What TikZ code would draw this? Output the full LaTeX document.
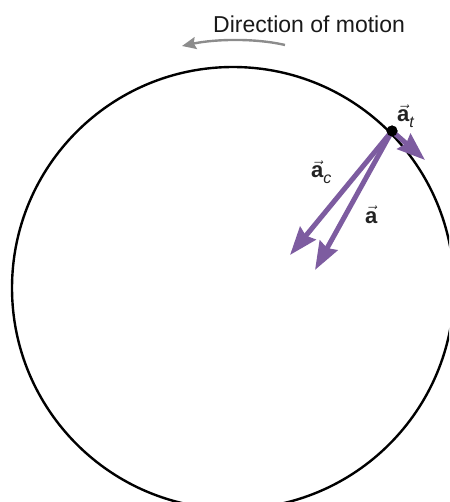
\documentclass[tikz,border=0pt]{standalone}
\usepackage{fontspec}
\setmainfont{Liberation Sans}
\usetikzlibrary{arrows.meta}
\definecolor{accpurple}{RGB}{125,92,160}
\definecolor{motiongray}{RGB}{140,140,140}
\definecolor{labelink}{RGB}{35,35,35}
\newcommand\vecA{$\vec{\hbox{\bfseries a}}$}
\newcommand\subsym[1]{\raisebox{-6pt}{\fontsize{16}{16}\selectfont\itshape #1}}
\begin{document}
\begin{tikzpicture}[x=1pt,y=-1pt,
  dotnode/.style={circle,fill=black,inner sep=0pt,minimum size=11pt},
  vecarrow/.style={draw=accpurple,line width=5pt,-{Stealth[length=28pt,width=20pt,inset=3pt]}},
  motionarrow/.style={draw=motiongray,line width=2.4pt,-{Stealth[length=14pt,width=12pt,inset=2pt]}},
  lbl/.style={anchor=base west,inner sep=0pt,text=labelink,font=\fontsize{22}{22}\selectfont},
  titletext/.style={anchor=base west,inner sep=0pt,text=black!90,font=\fontsize{23}{23}\selectfont}]
\clip (0,0) rectangle (449,502);
\useasboundingbox (0,0) rectangle (449,502);
\coordinate (O) at (233,288);
\draw[line width=2.4pt] (O) circle[radius=221];
% point on the circle
\node[dotnode] (P) at (392,131) {};
% arrow tips
\coordinate (Tc) at (290,255);
\coordinate (Ta) at (315,270);
\coordinate (Tt) at (425,160);
\draw[vecarrow] (P.center) -- (Tc);
\draw[vecarrow] (P.center) -- (Ta);
\draw[vecarrow] (P.center) -- (Tt);
\node[dotnode] at (P) {};
% labels
\node[lbl] (Lc) at (311,178) {\vecA\subsym{c}};
\node[lbl] (La) at (365,223) {\vecA};
\node[lbl] (Lt) at (397,122) {\vecA\subsym{t}};
% direction of motion
\node[titletext] (Title) at (213,33) {Direction of motion};
\coordinate (M1) at (285,45);
\coordinate (M2) at (182,46);
\draw[motionarrow] (M1) .. controls (255,38) and (215,39) .. (M2);
\end{tikzpicture}
\end{document}
